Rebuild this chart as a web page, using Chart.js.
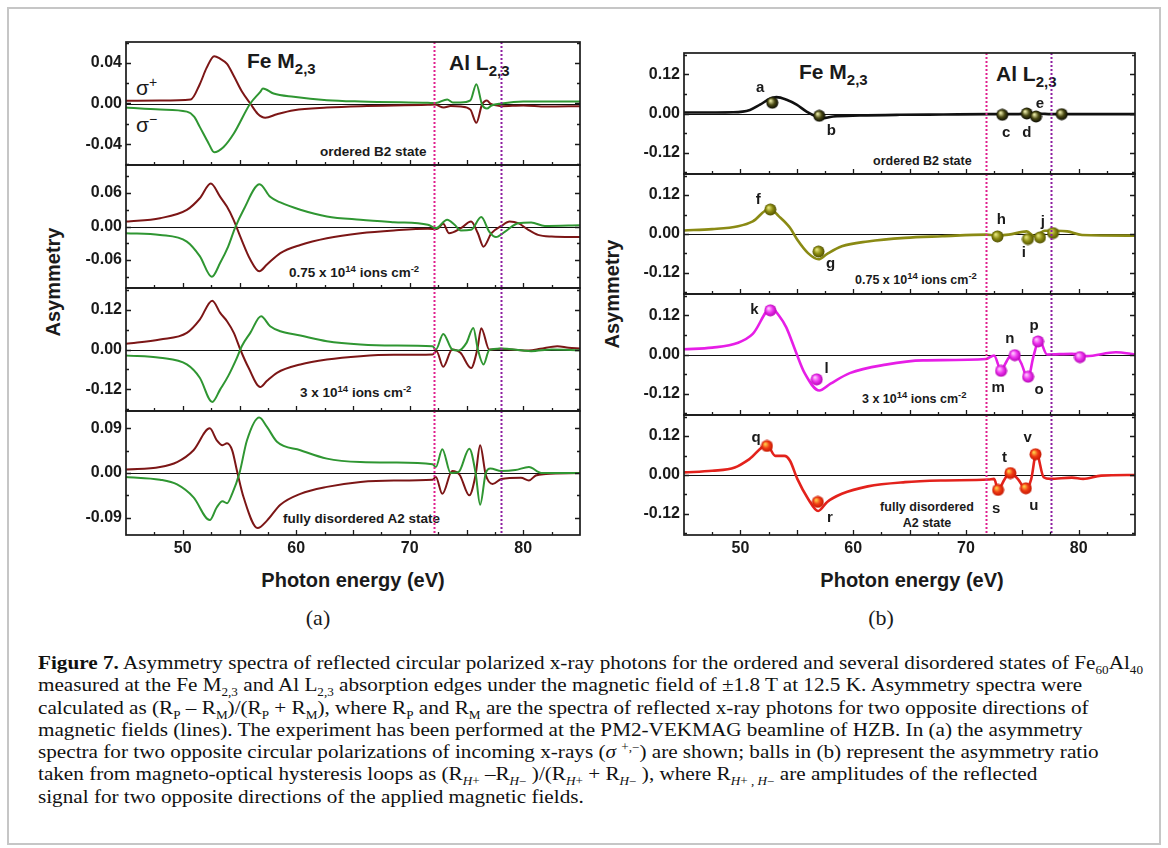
<!DOCTYPE html>
<html>
<head>
<meta charset="utf-8">
<script src="https://cdn.jsdelivr.net/npm/chart.js@4.4.1/dist/chart.umd.min.js"></script>
<style>
  body { margin: 0; background: #fff; width: 1168px; height: 848px; position: relative; overflow: hidden;
         font-family: "Liberation Sans", Arial, sans-serif; color: #1a1a1a; }
  #box { position: absolute; left: 7px; top: 7px; width: 1150px; height: 834px; border: 2px solid #c6c6c6; }
  canvas { position: absolute; }
  .t { position: absolute; line-height: 0; white-space: nowrap; font-weight: bold; }
  .t sub, .t sup { vertical-align: baseline; position: relative; line-height: 0; }
  .big { font-size: 21px; }
  .big sub { font-size: 15px; top: 6px; }
  .note { font-size: 13.5px; }
  .noteb { font-size: 12.5px; }
  .note sup, .noteb sup { font-size: 9.5px; top: -5px; }
  .sig { font-size: 21px; font-weight: normal; }
  .sig sup { font-size: 14px; top: -8px; }
  .axt { font-size: 20px; }
  .pl { font-family: "Liberation Serif", serif; font-weight: normal; font-size: 22px; }
  .rot { transform: translate(-50%, 0) rotate(-90deg); }
  #cap { position: absolute; left: 38px; top: 652px; font-family: "Liberation Serif", serif; font-size: 18.5px;
         line-height: 22.3px; white-space: nowrap; transform-origin: 0 0; color: #111; }
  #cap sub, #cap sup { font-size: 11.5px; line-height: 0; }
</style>
</head>
<body>
<div id="box"></div>

<!-- panel (a) texts -->
<div class="t big" style="left:247px; top:61px">Fe M<sub>2,3</sub></div>
<div class="t big" style="left:449px; top:63px">Al L<sub>2,3</sub></div>
<div class="t sig" style="left:136px; top:88px">σ<sup>+</sup></div>
<div class="t sig" style="left:136px; top:125px">σ<sup>−</sup></div>
<div class="t note" style="left:320px; top:152px">ordered B2 state</div>
<div class="t note" style="left:289px; top:273px">0.75 x 10<sup>14</sup> ions cm<sup>-2</sup></div>
<div class="t note" style="left:300px; top:393px">3 x 10<sup>14</sup> ions cm<sup>-2</sup></div>
<div class="t note" style="left:283px; top:519px">fully disordered A2 state</div>
<div class="t axt" style="left:353px; top:580px; transform:translateX(-50%)">Photon energy (eV)</div>
<div class="t pl" style="left:318px; top:618px; transform:translateX(-50%)">(a)</div>
<div class="t axt rot" style="left:53px; top:282px">Asymmetry</div>

<!-- panel (b) texts -->
<div class="t big" style="left:799px; top:72px">Fe M<sub>2,3</sub></div>
<div class="t big" style="left:996px; top:74px">Al L<sub>2,3</sub></div>
<div class="t noteb" style="left:873px; top:161px">ordered B2 state</div>
<div class="t noteb" style="left:855px; top:280px">0.75 x 10<sup>14</sup> ions cm<sup>-2</sup></div>
<div class="t noteb" style="left:862px; top:399px">3 x 10<sup>14</sup> ions cm<sup>-2</sup></div>
<div class="t noteb" style="left:927px; top:507px; transform:translateX(-50%)">fully disordered</div>
<div class="t noteb" style="left:927px; top:523px; transform:translateX(-50%)">A2 state</div>
<div class="t axt" style="left:912px; top:580px; transform:translateX(-50%)">Photon energy (eV)</div>
<div class="t pl" style="left:881px; top:618px; transform:translateX(-50%)">(b)</div>
<div class="t axt rot" style="left:612px; top:294px">Asymmetry</div>

<div id="cap">
<div id="cap1"><b>Figure 7.</b> Asymmetry spectra of reflected circular polarized x-ray photons for the ordered and several disordered states of Fe<sub>60</sub>Al<sub>40</sub></div>
<div>measured at the Fe M<sub>2,3</sub> and Al L<sub>2,3</sub> absorption edges under the magnetic field of ±1.8 T at 12.5 K. Asymmetry spectra were</div>
<div>calculated as (R<sub>P</sub> – R<sub>M</sub>)/(R<sub>P</sub> + R<sub>M</sub>), where R<sub>P</sub> and R<sub>M</sub> are the spectra of reflected x-ray photons for two opposite directions of</div>
<div>magnetic fields (lines). The experiment has been performed at the PM2-VEKMAG beamline of HZB. In (a) the asymmetry</div>
<div>spectra for two opposite circular polarizations of incoming x-rays (<i>σ</i> <sup>+,−</sup>) are shown; balls in (b) represent the asymmetry ratio</div>
<div>taken from magneto-optical hysteresis loops as (R<sub><i>H</i>+</sub> –R<sub><i>H</i>−</sub> )/(R<sub><i>H</i>+</sub> + R<sub><i>H</i>−</sub> ), where R<sub><i>H</i>+ , <i>H</i>−</sub> are amplitudes of the reflected</div>
<div>signal for two opposite directions of the applied magnetic fields.</div>
</div>

<script>
// ---------- data: energies (eV) and asymmetry values ----------
const xTickVals = [50, 60, 70, 80];
const edgesA = [72.18, 78.07];   // Al L edge markers, panel (a)
const edgesB = [71.78, 77.52];   // Al L edge markers, panel (b)

// (a) ordered B2 state
const ordPlusE  = [45, 48, 50.7, 51.5, 52.1, 52.77, 53.3, 53.9, 54.5, 55.2, 55.95, 56.6, 57.27, 58.3, 59.8, 62.7, 65.7, 71.6, 72.2, 73.0, 73.6, 74.5, 75.34, 75.87, 76.37, 76.8, 77.1, 78.07, 80, 82, 85];
const ordPlusA  = [0.0026, 0.003, 0.004, 0.019, 0.035, 0.0466, 0.044, 0.039, 0.027, 0.012, 0, -0.010, -0.014, -0.0105, -0.0066, -0.004, -0.0026, -0.0013, -0.001, -0.004, -0.0025, -0.003, -0.006, -0.019, -0.001, 0.003, 0.0, -0.0026, -0.002, -0.003, -0.0026];
const ordMinusE = [45, 48, 50.36, 51.0, 51.5, 52.27, 52.77, 53.6, 54.5, 55.95, 56.83, 57.07, 58.0, 59.77, 62.7, 65.7, 71.6, 72.3, 73.3, 73.8, 74.47, 75.34, 75.87, 76.37, 76.8, 77.2, 78.07, 80, 85];
const ordMinusA = [-0.004, -0.006, -0.008, -0.013, -0.023, -0.039, -0.048, -0.0427, -0.0295, 0, 0.0115, 0.0148, 0.0098, 0.0066, 0.0033, 0.002, 0.0007, 0.0005, 0.004, 0.001, 0.001, 0.003, 0.019, -0.001, -0.005, -0.002, 0.0, 0.002, 0.002];

// (a) 0.75e14 ions/cm2
const lowPlusE  = [45, 48, 50.36, 51.5, 52.47, 53.3, 53.89, 54.48, 55.07, 55.95, 56.74, 57.42, 58.6, 60.36, 62.7, 65.66, 68.6, 71.6, 72.4, 72.95, 73.45, 74.5, 75.4, 76.0, 76.5, 77.2, 78.07, 78.8, 79.56, 80.45, 81.3, 82.5, 85];
const lowPlusA  = [0.0089, 0.0149, 0.0297, 0.0505, 0.077, 0.053, 0.0356, 0.012, -0.018, -0.059, -0.080, -0.068, -0.0475, -0.033, -0.021, -0.012, -0.007, -0.004, -0.0045, 0.005, -0.012, -0.003, 0.009, -0.012, -0.036, -0.012, 0.001, 0.009, 0.006, -0.006, -0.015, -0.018, -0.019];
const lowMinusE = [45, 48, 50.36, 51.5, 52.56, 53.3, 54.0, 54.6, 55.36, 56.77, 57.7, 58.6, 60.36, 62.7, 65.66, 68.6, 71.6, 72.3, 73.3, 73.95, 74.5, 75.4, 76.3, 77.0, 77.6, 78.4, 79.56, 80.7, 81.9, 85];
const lowMinusA = [-0.012, -0.015, -0.027, -0.053, -0.090, -0.065, -0.036, -0.003, 0.030, 0.0755, 0.053, 0.043, 0.030, 0.018, 0.012, 0.0077, 0.003, -0.003, 0.012, 0.003, -0.007, -0.006, 0.017, -0.009, -0.019, -0.009, 0.006, 0.007, 0.001, 0.0024];

// (a) 3e14 ions/cm2
const midPlusE  = [45, 48, 50.36, 51.5, 52.6, 53.3, 53.9, 54.5, 55.07, 55.8, 56.83, 57.4, 58.3, 60.36, 62.7, 65.66, 68.6, 72.0, 72.36, 72.95, 73.74, 74.47, 75.4, 75.95, 76.3, 77.0, 78.0, 79.0, 80.5, 81.5, 83.0, 84.0, 85];
const midPlusA  = [0.017, 0.030, 0.050, 0.090, 0.147, 0.110, 0.085, 0.050, 0, -0.055, -0.113, -0.095, -0.070, -0.045, -0.030, -0.020, -0.016, -0.015, -0.005, -0.052, 0, -0.010, -0.056, 0.0, 0.064, 0, 0.002, 0, -0.003, 0.002, 0.010, 0.005, 0.003];
const midMinusE = [45, 48, 50.36, 51.5, 52.6, 53.3, 54.0, 54.77, 55.2, 55.95, 56.9, 57.7, 58.6, 60.36, 62.7, 65.66, 68.6, 72.0, 72.3, 72.95, 73.74, 74.3, 75.0, 75.6, 76.0, 76.5, 77.0, 78, 80.7, 82.5, 85];
const midMinusA = [-0.018, -0.025, -0.045, -0.085, -0.158, -0.12, -0.08, -0.025, 0.01, 0.05, 0.10, 0.07, 0.055, 0.042, 0.025, 0.015, 0.012, 0.010, 0.0, 0.047, 0.0, -0.003, 0.02, 0.065, 0.0, -0.045, -0.002, 0.003, -0.005, 0.0, -0.002];

// (a) fully disordered A2 state
const disPlusE  = [45, 48, 49.5, 50.95, 52.38, 53.0, 53.5, 53.9, 54.35, 54.8, 55.36, 56.6, 57.42, 58.6, 60.36, 62.7, 65.66, 68.6, 72.0, 72.3, 72.87, 73.74, 74.4, 75.25, 75.8, 76.2, 76.7, 77.3, 78.07, 79.8, 80.5, 81.1, 82, 85];
const disPlusA  = [0.0068, 0.012, 0.022, 0.046, 0.090, 0.066, 0.056, 0.060, 0.046, 0.002, -0.049, -0.111, -0.096, -0.064, -0.042, -0.028, -0.018, -0.015, -0.0135, -0.008, -0.042, 0.004, -0.004, -0.045, -0.004, 0.056, -0.004, -0.022, -0.012, -0.0095, -0.015, -0.005, -0.002, 0.0];
const disMinusE = [45, 48, 49.5, 50.95, 52.38, 53.0, 53.5, 53.9, 54.35, 55.0, 55.66, 56.74, 57.42, 58.3, 60.36, 62.7, 65.66, 68.6, 72.0, 72.3, 72.87, 73.6, 74.3, 75.25, 75.8, 76.2, 76.7, 77.1, 78.07, 79.3, 80.5, 81.6, 85];
const disMinusA = [-0.008, -0.0135, -0.023, -0.049, -0.095, -0.069, -0.057, -0.061, -0.042, 0, 0.066, 0.112, 0.093, 0.063, 0.046, 0.029, 0.022, 0.021, 0.0176, 0.012, 0.048, 0.0, 0.002, 0.049, 0.0, -0.064, 0.0, 0.009, 0.004, 0.006, 0.012, 0.0, 0.0];

// (b) field-reversal asymmetry lines
const ordLineE = [45, 49.37, 50.85, 51.74, 52.63, 53.2, 54.1, 54.99, 55.87, 56.76, 57.35, 58.24, 60.6, 64.15, 68, 72, 74, 76, 78, 80, 85];
const ordLineA = [0.003, 0.004, 0.011, 0.027, 0.045, 0.050, 0.042, 0.027, 0.006, -0.009, -0.014, -0.009, -0.006, -0.004, -0.003, -0.002, -0.002, 0.0, -0.002, -0.002, -0.002];
const lowLineE = [45, 47.5, 49.8, 51.1, 52.6, 53.4, 54.4, 55.05, 56.0, 56.93, 57.7, 59.0, 61.3, 64.6, 67.9, 71.8, 72.8, 73.8, 75.4, 76.1, 77.0, 78.0, 79.0, 80.3, 85];
const lowLineA = [0.011, 0.015, 0.024, 0.039, 0.078, 0.055, 0.019, -0.018, -0.059, -0.078, -0.061, -0.038, -0.023, -0.012, -0.007, -0.002, -0.004, -0.002, 0.008, -0.007, 0.010, 0.010, 0.008, -0.003, -0.005];
const midLineE = [45, 47.5, 49.8, 51.1, 52.75, 53.4, 54.07, 54.9, 55.7, 57.0, 58.0, 59.7, 62.9, 66.2, 71.8, 72.5, 73.1, 73.8, 74.34, 74.9, 75.5, 76.0, 76.5, 77.2, 79.4, 80.7, 83.3, 85];
const midLineA = [0.016, 0.021, 0.036, 0.063, 0.143, 0.12, 0.083, 0.010, -0.057, -0.11, -0.089, -0.057, -0.031, -0.018, -0.0136, -0.003, -0.047, -0.010, 0.002, -0.026, -0.073, -0.005, 0.045, 0.0, 0.002, -0.005, 0.007, 0.0];
const disLineE = [45, 47.5, 49.5, 50.8, 52.36, 53.1, 53.9, 54.4, 55.05, 56.0, 56.9, 57.7, 59.0, 61.3, 64.6, 67.9, 72.0, 72.5, 72.86, 73.45, 73.95, 74.6, 75.36, 75.8, 76.25, 76.9, 77.5, 79.4, 80.4, 82.0, 85];
const disLineA = [0.008, 0.013, 0.023, 0.049, 0.092, 0.059, 0.059, 0.044, -0.012, -0.073, -0.111, -0.083, -0.058, -0.035, -0.022, -0.017, -0.014, -0.012, -0.045, -0.012, 0.008, -0.012, -0.045, -0.012, 0.069, -0.007, -0.012, -0.008, -0.012, -0.002, 0.0];

// (b) balls from hysteresis loops
const ordBallE = [52.83, 57.0, 73.23, 75.4, 76.22, 78.5];
const ordBallA = [0.033, -0.007, -0.004, 0.0, -0.009, -0.002];
const ordBallTag = ['a', 'b', 'c', 'd', 'e', ''];
const lowBallE = [52.66, 56.93, 72.8, 75.5, 76.57, 77.73];
const lowBallA = [0.0755, -0.054, -0.0075, -0.0155, -0.0105, 0.003];
const lowBallTag = ['f', 'g', 'h', 'i', 'j', ''];
const midBallE = [52.66, 56.77, 73.12, 74.34, 75.52, 76.4, 80.12];
const midBallA = [0.135, -0.076, -0.050, -0.002, -0.068, 0.040, -0.008];
const midBallTag = ['k', 'l', 'm', 'n', 'o', 'p', ''];
const disBallE = [52.36, 56.87, 72.86, 73.95, 75.32, 76.18];
const disBallA = [0.0895, -0.083, -0.046, 0.006, -0.041, 0.064];
const disBallTag = ['q', 'r', 's', 't', 'u', 'v'];

// label offsets (px) from each ball
const ordTagOff = [[-12, -15], [12, 15], [4, 18], [0, 19], [4, -13], [0, 0]];
const lowTagOff = [[-12, -10], [12, 12], [4, -17], [-4, 14], [3, -16], [0, 0]];
const midTagOff = [[-16, 0], [10, -10], [-3, 17], [-5, -16], [11, 13], [-4, -16], [0, 0]];
const disTagOff = [[-11, -8], [12, 16], [-2, 19], [-6, -15], [8, 18], [-8, -16]];

// ---------- drawing ----------
const FONT = '"Liberation Sans", Arial, sans-serif';
const RED_A = '#7c1616', GREEN_A = '#2f9632';

function ballImage(light, mid, dark) {
  const c = document.createElement('canvas');
  c.width = c.height = 13;
  const g = c.getContext('2d');
  const gr = g.createRadialGradient(4.6, 4.4, 0.5, 6.5, 6.5, 6.3);
  gr.addColorStop(0, light);
  gr.addColorStop(0.5, mid);
  gr.addColorStop(1, dark);
  g.fillStyle = gr;
  g.beginPath();
  g.arc(6.5, 6.5, 6, 0, Math.PI * 2);
  g.fill();
  return c;
}

const framePlugin = {
  id: 'frame',
  beforeDatasetsDraw(chart, args, o) {
    const { ctx, chartArea: a, scales: { y } } = chart;
    const y0 = Math.round(y.getPixelForValue(0)) + 0.5;
    ctx.save();
    ctx.strokeStyle = '#111';
    ctx.lineWidth = 1.1;
    ctx.beginPath();
    ctx.moveTo(a.left, y0);
    ctx.lineTo(a.right, y0);
    ctx.stroke();
    ctx.restore();
  },
  afterDatasetsDraw(chart, args, o) {
    const { ctx, chartArea: a, scales: { x, y } } = chart;
    ctx.save();
    // dotted Al edge markers
    const edgeColors = ['#e0208e', '#8e1fa0'];
    o.edges.forEach((e, i) => {
      const px = Math.round(x.getPixelForValue(e)) + 0.5;
      ctx.strokeStyle = edgeColors[i];
      ctx.lineWidth = 2;
      ctx.setLineDash([2, 2]);
      ctx.beginPath();
      ctx.moveTo(px, a.top);
      ctx.lineTo(px, a.bottom);
      ctx.stroke();
    });
    ctx.setLineDash([]);

    // ball letters
    if (o.tags) {
      const meta = chart.getDatasetMeta(0);
      ctx.fillStyle = '#1a1a1a';
      ctx.font = 'bold 15px ' + FONT;
      ctx.textAlign = 'center';
      ctx.textBaseline = 'middle';
      o.tags.forEach((t, i) => {
        if (!t) return;
        const p = meta.data[i];
        ctx.fillText(t, p.x + o.offs[i][0], p.y + o.offs[i][1]);
      });
    }

    // inward ticks
    ctx.strokeStyle = '#1a1a1a';
    ctx.lineWidth = 1.3;
    ctx.beginPath();
    for (let e = 47.5; e < 85; e += 2.5) {
      const px = Math.round(x.getPixelForValue(e)) + 0.5;
      const len = e % 5 === 0 ? 5 : 3;
      ctx.moveTo(px, a.bottom);
      ctx.lineTo(px, a.bottom - len);
    }
    const r = y.max;
    for (let v = -Math.floor(r / o.yMinor) * o.yMinor; v <= r + 1e-9; v += o.yMinor) {
      const py = Math.round(y.getPixelForValue(v)) + 0.5;
      const major = o.yTicks.some(t => Math.abs(t - v) < 1e-6);
      const len = major ? 5 : 3;
      ctx.moveTo(a.left, py); ctx.lineTo(a.left + len, py);
      ctx.moveTo(a.right, py); ctx.lineTo(a.right - len, py);
    }
    ctx.stroke();

    // frame
    ctx.lineWidth = 1.7;
    ctx.strokeStyle = '#1a1a1a';
    ctx.strokeRect(a.left, a.top, a.right - a.left, a.bottom - a.top);
    ctx.restore();
  }
};

function toXY(es, as) {
  return es.map((e, i) => ({ x: e, y: as[i] }));
}

function buildSubplot(panel, sp, isBottom) {
  const axisW = 70, padT = 6, padR = 10;
  const padB = isBottom ? 0 : 6;
  const axisH = isBottom ? 30 : 0;
  const cv = document.createElement('canvas');
  cv.width = axisW + (panel.right - panel.left) + padR;
  cv.height = padT + (sp.bottom - sp.top) + padB + axisH;
  document.body.appendChild(cv);

  const datasets = [];
  if (sp.ballE) {
    datasets.push({
      data: toXY(sp.ballE, sp.ballA), showLine: false,
      pointStyle: sp.ballImg, pointRadius: 6, pointBorderWidth: 0
    });
  }
  sp.series.forEach(s => datasets.push({
    data: toXY(s[0], s[1]), borderColor: s[2], borderWidth: panel.lineWidth,
    pointRadius: 0, cubicInterpolationMode: 'monotone', fill: false
  }));

  const tickFont = { family: FONT, size: 16, weight: 'bold' };
  const chart = new Chart(cv, {
    type: 'line',
    data: { datasets },
    options: {
      responsive: false,
      animation: false,
      devicePixelRatio: 1,
      layout: { padding: { top: padT, bottom: padB, left: 0, right: padR } },
      plugins: {
        legend: { display: false },
        tooltip: { enabled: false },
        frame: { edges: panel.edges, yTicks: sp.yTicks, yMinor: sp.yMinor, tags: sp.tags || null, offs: sp.offs || null }
      },
      scales: {
        x: {
          type: 'linear', min: 45, max: 85, display: isBottom,
          grid: { display: false, drawTicks: false }, border: { display: false },
          ticks: { font: tickFont, color: '#1a1a1a', padding: 4, maxRotation: 0 },
          afterBuildTicks: s => { s.ticks = xTickVals.map(v => ({ value: v })); },
          afterFit: s => { s.height = axisH; s.paddingLeft = 0; s.paddingRight = 0; }
        },
        y: {
          min: -sp.range, max: sp.range,
          grid: { display: false, drawTicks: false }, border: { display: false },
          ticks: {
            font: tickFont, color: '#1a1a1a', padding: 4,
            callback: v => (Math.abs(v) < 1e-9 ? 0 : v).toFixed(2)
          },
          afterBuildTicks: s => { s.ticks = sp.yTicks.map(v => ({ value: v })); },
          afterFit: s => { s.width = axisW; s.paddingTop = 0; s.paddingBottom = 0; }
        }
      }
    },
    plugins: [framePlugin]
  });
  const ca = chart.chartArea;
  cv.style.left = (panel.left - ca.left) + 'px';
  cv.style.top = (sp.top - ca.top) + 'px';
}

const panelA = { left: 126, right: 580, edges: edgesA, lineWidth: 2 };
const panelB = { left: 684, right: 1135, edges: edgesB, lineWidth: 2.6 };

const subplotsA = [
  { top: 42, bottom: 165, range: 0.0605, yTicks: [-0.04, 0, 0.04], yMinor: 0.02,
    series: [[ordMinusE, ordMinusA, GREEN_A], [ordPlusE, ordPlusA, RED_A]] },
  { top: 165, bottom: 288, range: 0.110, yTicks: [-0.06, 0, 0.06], yMinor: 0.03,
    series: [[lowMinusE, lowMinusA, GREEN_A], [lowPlusE, lowPlusA, RED_A]] },
  { top: 288, bottom: 411, range: 0.185, yTicks: [-0.12, 0, 0.12], yMinor: 0.06,
    series: [[midMinusE, midMinusA, GREEN_A], [midPlusE, midPlusA, RED_A]] },
  { top: 411, bottom: 535, range: 0.125, yTicks: [-0.09, 0, 0.09], yMinor: 0.045,
    series: [[disMinusE, disMinusA, GREEN_A], [disPlusE, disPlusA, RED_A]] }
];

const subplotsB = [
  { top: 53, bottom: 174, range: 0.185, yTicks: [-0.12, 0, 0.12], yMinor: 0.06,
    series: [[ordLineE, ordLineA, '#111111']],
    ballE: ordBallE, ballA: ordBallA, tags: ordBallTag, offs: ordTagOff,
    ballImg: ballImage('#eeeeaa', '#4a4a14', '#050500') },
  { top: 174, bottom: 294, range: 0.185, yTicks: [-0.12, 0, 0.12], yMinor: 0.06,
    series: [[lowLineE, lowLineA, '#8a8a14']],
    ballE: lowBallE, ballA: lowBallA, tags: lowBallTag, offs: lowTagOff,
    ballImg: ballImage('#e4e47a', '#8c8c12', '#4c4c00') },
  { top: 294, bottom: 415, range: 0.185, yTicks: [-0.12, 0, 0.12], yMinor: 0.06,
    series: [[midLineE, midLineA, '#e61ee6']],
    ballE: midBallE, ballA: midBallA, tags: midBallTag, offs: midTagOff,
    ballImg: ballImage('#ffc8ff', '#ee34ee', '#b000b0') },
  { top: 415, bottom: 535, range: 0.185, yTicks: [-0.12, 0, 0.12], yMinor: 0.06,
    series: [[disLineE, disLineA, '#e3221c']],
    ballE: disBallE, ballA: disBallA, tags: disBallTag, offs: disTagOff,
    ballImg: ballImage('#ffd24a', '#f03a14', '#c01400') }
];

subplotsA.forEach((sp, i) => buildSubplot(panelA, sp, i === subplotsA.length - 1));
subplotsB.forEach((sp, i) => buildSubplot(panelB, sp, i === subplotsB.length - 1));

// fit the caption block to the width of the printed caption
const cap = document.getElementById('cap');
const line1 = document.createElement('span');
line1.innerHTML = document.getElementById('cap1').innerHTML;
line1.style.whiteSpace = 'nowrap';
cap.appendChild(line1);
const measured = line1.getBoundingClientRect().width;
cap.removeChild(line1);
cap.style.transform = 'scaleX(' + (1105 / measured) + ')';
</script>
</body>
</html>
